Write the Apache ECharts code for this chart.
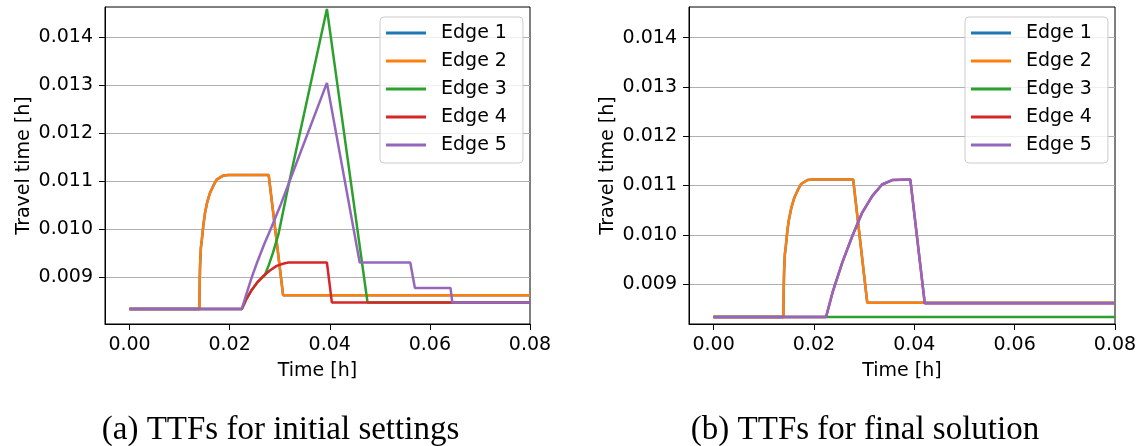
<!DOCTYPE html>
<html>
<head>
<meta charset="utf-8">
<script src="https://cdn.jsdelivr.net/npm/echarts@6/dist/echarts.min.js"></script>
<style>
html,body{margin:0;padding:0;background:#fff;}
#chart{width:1146px;height:446px;}
</style>
</head>
<body>
<div id="chart"></div>
<script>
// ---- data (time [h], travel time [h]) ----
const seriesNames = ['Edge 1', 'Edge 2', 'Edge 3', 'Edge 4', 'Edge 5'];
const xTicks = [0, 0.02, 0.04, 0.06, 0.08];
const yTicks = [0.009, 0.010, 0.011, 0.012, 0.013, 0.014];
const captions = ['(a) TTFs for initial settings', '(b) TTFs for final solution'];

// (a) initial settings
const initEdge1 = [[0,0.00833],[0.01395,0.00833],[0.01402,0.0089],[0.01409,0.00923],[0.01425,0.0096],[0.01445,0.00978],[0.01475,0.01008],[0.01509,0.01034],[0.01555,0.01057],[0.01608,0.01075],[0.01675,0.0109],[0.01744,0.01103],[0.01872,0.01111],[0.01979,0.01112],[0.0278,0.01112],[0.03068,0.00862],[0.08,0.00862]];
const initEdge2 = [[0,0.00833],[0.01395,0.00833],[0.01402,0.0089],[0.01409,0.00923],[0.01425,0.0096],[0.01445,0.00978],[0.01475,0.01008],[0.01509,0.01034],[0.01555,0.01057],[0.01608,0.01075],[0.01675,0.0109],[0.01744,0.01103],[0.01872,0.01111],[0.01979,0.01112],[0.0278,0.01112],[0.03068,0.00862],[0.08,0.00862]];
const initEdge3 = [[0,0.00833],[0.02242,0.00833],[0.02334,0.00854],[0.02441,0.00873],[0.02548,0.00888],[0.02704,0.00904],[0.02776,0.00923],[0.02868,0.00951],[0.02975,0.00989],[0.03174,0.0109],[0.03943,0.01458],[0.04754,0.00847],[0.08,0.00847]];
const initEdge4 = [[0,0.00833],[0.02242,0.00833],[0.02334,0.00854],[0.02441,0.00873],[0.02548,0.00888],[0.02676,0.00902],[0.02797,0.00913],[0.02939,0.00923],[0.03082,0.00928],[0.03174,0.0093],[0.03943,0.0093],[0.04042,0.00847],[0.08,0.00847]];
const initEdge5 = [[0,0.00833],[0.02242,0.00833],[0.02334,0.00864],[0.02441,0.00899],[0.02548,0.0093],[0.0269,0.00968],[0.02833,0.01003],[0.03011,0.01048],[0.03174,0.01093],[0.03943,0.01304],[0.04598,0.0093],[0.05608,0.0093],[0.05701,0.00877],[0.06412,0.00877],[0.06448,0.00847],[0.08,0.00847]];

// (b) final solution
const finalEdge1 = [[0,0.00833],[0.01391,0.00833],[0.01398,0.0089],[0.01405,0.00925],[0.0142,0.0096],[0.01441,0.00978],[0.0147,0.01008],[0.015,0.0103],[0.0155,0.01055],[0.01608,0.01075],[0.01675,0.0109],[0.01744,0.01103],[0.01872,0.01111],[0.0198,0.01112],[0.02782,0.01112],[0.03063,0.00862],[0.08,0.00862]];
const finalEdge2 = [[0,0.00833],[0.01391,0.00833],[0.01398,0.0089],[0.01405,0.00925],[0.0142,0.0096],[0.01441,0.00978],[0.0147,0.01008],[0.015,0.0103],[0.0155,0.01055],[0.01608,0.01075],[0.01675,0.0109],[0.01744,0.01103],[0.01872,0.01111],[0.0198,0.01112],[0.02782,0.01112],[0.03063,0.00862],[0.08,0.00862]];
const finalEdge3 = [[0,0.00833],[0.08,0.00833]];
const finalEdge4 = [[0,0.00833],[0.02241,0.00833],[0.02371,0.00883],[0.02566,0.00944],[0.02767,0.00998],[0.02962,0.01045],[0.03164,0.01079],[0.03358,0.01102],[0.0356,0.01111],[0.03921,0.01112],[0.04209,0.00861],[0.08,0.00861]];
const finalEdge5 = [[0,0.00833],[0.02241,0.00833],[0.02371,0.00883],[0.02566,0.00944],[0.02767,0.00998],[0.02962,0.01045],[0.03164,0.01079],[0.03358,0.01102],[0.0356,0.01111],[0.03921,0.01112],[0.04209,0.00861],[0.08,0.00861]];

const xRange = [-0.0049, 0.08];
const yRangeInit = [0.00802, 0.01462];
const yRangeFinal = [0.00819, 0.01462];

// ---- styling ----
const colors = ['#1f77b4', '#ff7f0e', '#2ca02c', '#d62728', '#9467bd'];
const FONT = 'DejaVu Sans';
const FS = 19;
const grids = [
  {left: 105, top: 7, width: 425, height: 317},
  {left: 689, top: 7, width: 426, height: 317}
];

function xAxisFor(i) {
  return {
    type: 'value', gridIndex: i, min: xRange[0], max: xRange[1],
    name: 'Time [h]', nameLocation: 'middle', nameGap: 38,
    nameTextStyle: {fontFamily: FONT, fontSize: FS, color: '#000'},
    axisLine: {show: true, onZero: false, lineStyle: {color: '#000', width: 1}},
    axisTick: {show: true, length: 6, lineStyle: {color: '#000', width: 1}, customValues: xTicks},
    axisLabel: {show: true, margin: 12, fontFamily: FONT, fontSize: FS, color: '#000',
      customValues: xTicks, formatter: v => v.toFixed(2)},
    splitLine: {show: false}
  };
}
function yAxisFor(i, range) {
  return {
    type: 'value', gridIndex: i, min: range[0], max: range[1], splitNumber: 6,
    name: 'Travel time [h]', nameLocation: 'middle', nameGap: 71,
    nameTextStyle: {fontFamily: FONT, fontSize: FS, color: '#000'},
    axisLine: {show: true, onZero: false, lineStyle: {color: '#000', width: 1}},
    axisTick: {show: true, length: 6, lineStyle: {color: '#000', width: 1}, customValues: yTicks},
    axisLabel: {show: true, margin: 12, fontFamily: FONT, fontSize: FS, color: '#000',
      customValues: yTicks, formatter: v => v.toFixed(3)},
    splitLine: {show: true, lineStyle: {color: '#b0b0b0', width: 1.2}}
  };
}
function legendFor(left) {
  return {
    left: left, top: 17, orient: 'vertical',
    data: seriesNames,
    icon: 'rect', itemWidth: 40, itemHeight: 3, itemGap: 8,
    padding: [6, 16, 8, 6],
    backgroundColor: 'rgba(255,255,255,0.8)', borderColor: '#cccccc', borderWidth: 1, borderRadius: 4,
    textStyle: {fontFamily: FONT, fontSize: FS, color: '#000', lineHeight: 20, padding: [0, 0, 0, 10]},
    selectedMode: false
  };
}
const initData = [initEdge1, initEdge2, initEdge3, initEdge4, initEdge5];
const finalData = [finalEdge1, finalEdge2, finalEdge3, finalEdge4, finalEdge5];
const series = [];
[initData, finalData].forEach((set, gi) => {
  set.forEach((d, k) => {
    series.push({
      name: seriesNames[k], type: 'line', xAxisIndex: gi, yAxisIndex: gi,
      data: d, showSymbol: false, symbol: 'none', smooth: false,
      color: colors[k], lineStyle: {color: colors[k], width: 2.5},
      z: 2 + k * 0.1, clip: true, silent: true
    });
  });
});

const chart = echarts.init(document.getElementById('chart'), null, {renderer: 'canvas'});
chart.setOption({
  animation: false,
  backgroundColor: '#fff',
  grid: grids.map(g => Object.assign({show: true, borderColor: '#000', borderWidth: 1, backgroundColor: 'transparent', containLabel: false}, g)),
  xAxis: [xAxisFor(0), xAxisFor(1)],
  yAxis: [yAxisFor(0, yRangeInit), yAxisFor(1, yRangeFinal)],
  legend: [legendFor(380), legendFor(965)],
  series: series,
  graphic: [
    {type: 'text', x: 280.5, y: 430, style: {text: captions[0], textAlign: 'center', textVerticalAlign: 'middle', font: '33px "Liberation Serif"', fill: '#000'}},
    {type: 'text', x: 865, y: 430, style: {text: captions[1], textAlign: 'center', textVerticalAlign: 'middle', font: '33px "Liberation Serif"', fill: '#000'}}
  ]
});
</script>
</body>
</html>
